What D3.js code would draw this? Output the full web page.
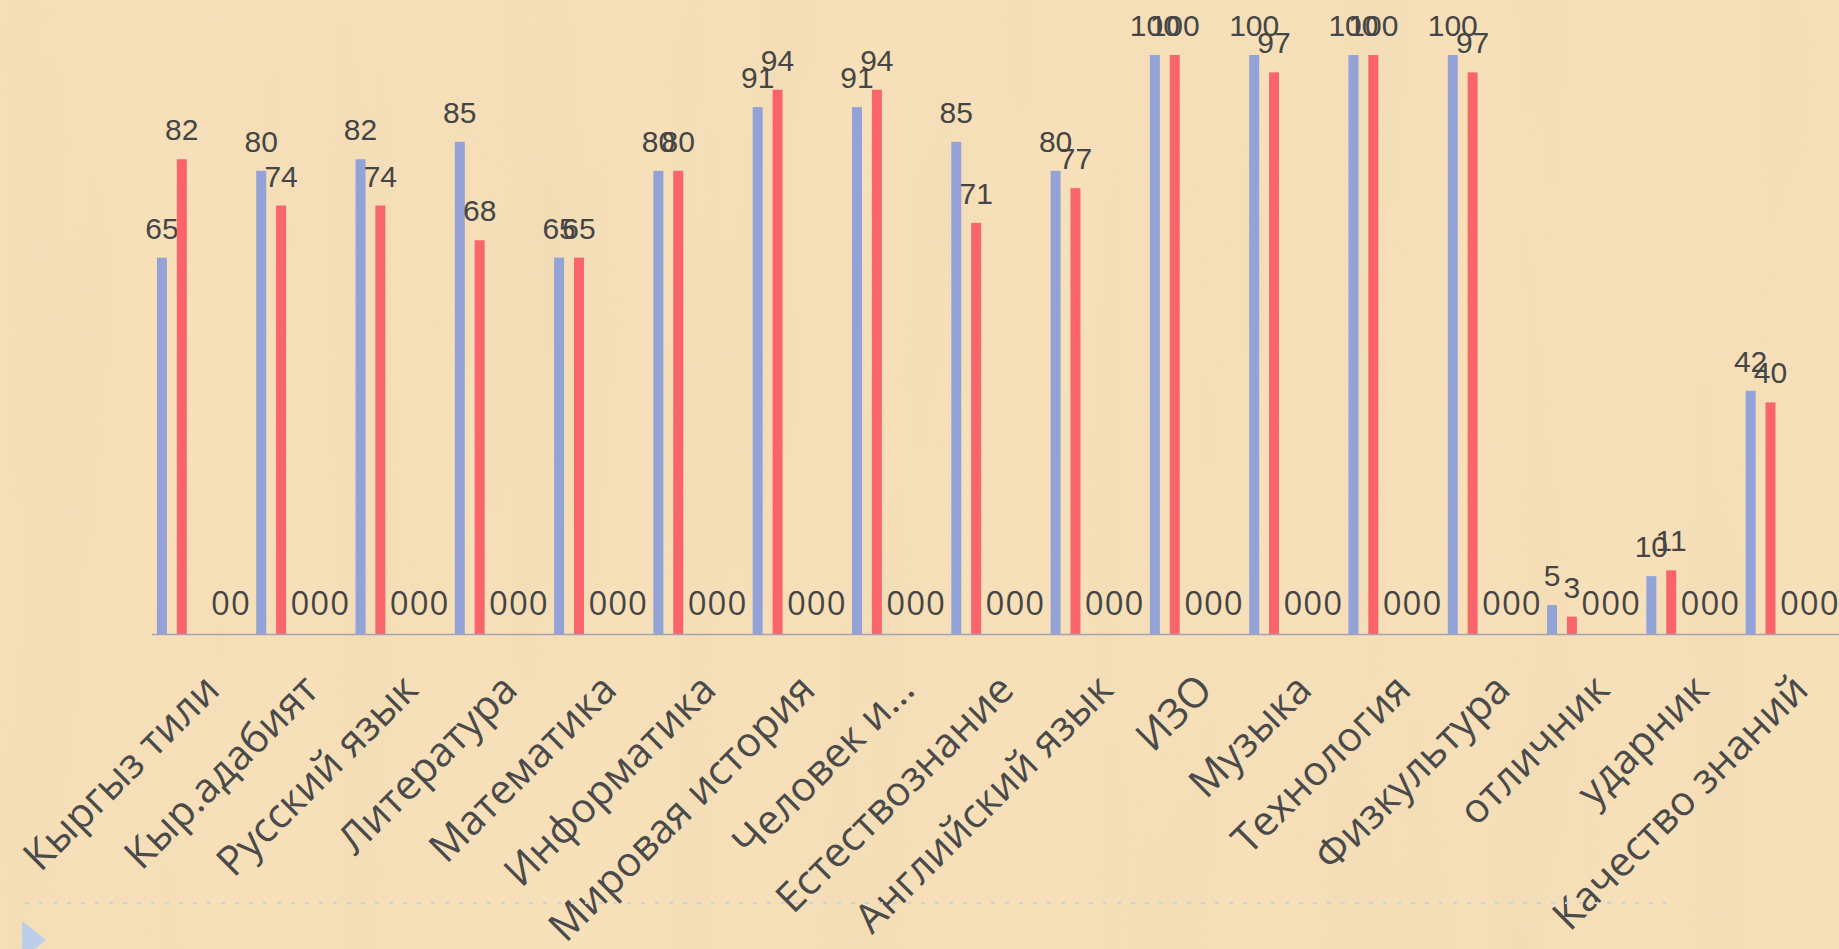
<!DOCTYPE html>
<html>
<head>
<meta charset="utf-8">
<script src="https://cdn.jsdelivr.net/npm/d3@7"></script>
<style>
  html, body { margin: 0; padding: 0; overflow: hidden; background: #f5dcb2; }
  svg { display: block; }
</style>
</head>
<body>
<script>
// categories along the x axis
const subjects = [
  'Кыргыз тили', 'Кыр.адабият', 'Русский язык', 'Литература', 'Математика',
  'Информатика', 'Мировая история', 'Человек и...', 'Естествознание',
  'Английский язык', 'ИЗО', 'Музыка', 'Технология', 'Физкультура',
  'отличник', 'ударник', 'Качество знаний'
];

// the two visible series, plus three series that are all zero
const blueValues = [65, 80, 82, 85, 65, 80, 91, 91, 85, 80, 100, 100, 100, 100, 5, 10, 42];
const redValues = [82, 74, 74, 68, 65, 80, 94, 94, 71, 77, 100, 97, 100, 97, 3, 11, 40];
const zeroValuesA = [null, 0, 0, 0, 0, 0, 0, 0, 0, 0, 0, 0, 0, 0, 0, 0, 0];
const zeroValuesB = [0, 0, 0, 0, 0, 0, 0, 0, 0, 0, 0, 0, 0, 0, 0, 0, 0];
const zeroValuesC = [0, 0, 0, 0, 0, 0, 0, 0, 0, 0, 0, 0, 0, 0, 0, 0, 0];

const seriesList = [
  { key: 's1', values: blueValues, color: '#93a3d8' },
  { key: 's2', values: redValues, color: '#f9656b' },
  { key: 's3', values: zeroValuesA, color: '#9bbb59' },
  { key: 's4', values: zeroValuesB, color: '#8064a2' },
  { key: 's5', values: zeroValuesC, color: '#4bacc6' },
];

const width = 1839;
const height = 949;

const svg = d3.select('body').append('svg')
  .attr('width', width)
  .attr('height', height);

// parchment background with a little texture
const defs = svg.append('defs');
const paper = defs.append('filter').attr('id', 'paper')
  .attr('x', 0).attr('y', 0).attr('width', '100%').attr('height', '100%');
paper.append('feTurbulence')
  .attr('type', 'fractalNoise')
  .attr('baseFrequency', '0.012 0.0015')
  .attr('numOctaves', 3)
  .attr('seed', 4)
  .attr('result', 'streaks');
paper.append('feColorMatrix')
  .attr('in', 'streaks')
  .attr('type', 'matrix')
  .attr('values', '0 0 0 0 0.86  0 0 0 0 0.70  0 0 0 0 0.45  0 0 0 -1.1 0.7')
  .attr('result', 'tint');
paper.append('feTurbulence')
  .attr('type', 'fractalNoise')
  .attr('baseFrequency', '0.9')
  .attr('numOctaves', 1)
  .attr('seed', 9)
  .attr('result', 'grain');
paper.append('feColorMatrix')
  .attr('in', 'grain')
  .attr('type', 'matrix')
  .attr('values', '0 0 0 0 0.8  0 0 0 0 0.66  0 0 0 0 0.45  0 0 0 -0.5 0.3')
  .attr('result', 'grainTint');
const merge = paper.append('feMerge');
merge.append('feMergeNode').attr('in', 'SourceGraphic');
merge.append('feMergeNode').attr('in', 'tint');
merge.append('feMergeNode').attr('in', 'grainTint');

svg.append('rect')
  .attr('width', width)
  .attr('height', height)
  .attr('fill', '#f8e1b9')
  .attr('filter', 'url(#paper)');

// scales
const x = d3.scaleBand()
  .domain(subjects)
  .range([152, 1840])
  .paddingInner(0)
  .paddingOuter(0);

const xInner = d3.scaleBand()
  .domain(seriesList.map(s => s.key))
  .range([0, x.bandwidth()]);

const y = d3.scaleLinear()
  .domain([0, 100])
  .range([634, 55]);

const barWidth = 10;

// bars and value labels
seriesList.forEach((series) => {
  const g = svg.append('g');
  const items = subjects.map((name, i) => ({ name, value: series.values[i] }))
    .filter(d => d.value !== null);

  g.selectAll('rect')
    .data(items.filter(d => d.value > 0))
    .join('rect')
    .attr('x', d => x(d.name) + xInner(series.key) + xInner.bandwidth() / 2 - barWidth / 2)
    .attr('y', d => y(d.value))
    .attr('width', barWidth)
    .attr('height', d => y(0) - y(d.value))
    .attr('fill', series.color);

  const isZero = series.key !== 's1' && series.key !== 's2';
  g.selectAll('text')
    .data(items)
    .join('text')
    .attr('x', d => x(d.name) + xInner(series.key) + xInner.bandwidth() / 2 - (isZero ? 1 : 0))
    .attr('y', d => y(d.value) - 19)
    .attr('text-anchor', 'middle')
    .attr('font-family', isZero ? '"Open Sans", sans-serif' : '"Liberation Sans", Arial, sans-serif')
    .attr('font-size', isZero ? 33 : 30)
    .attr('fill', '#454545')
    .text(d => d.value);
});

// category axis line
svg.append('line')
  .attr('x1', x.range()[0])
  .attr('x2', x.range()[1])
  .attr('y1', y(0) + 0.5)
  .attr('y2', y(0) + 0.5)
  .attr('stroke', '#a3a3b6')
  .attr('stroke-width', 1.5);

// rotated category labels
svg.append('g').selectAll('text')
  .data(subjects)
  .join('text')
  .attr('transform', d => `translate(${x(d) + x.bandwidth() / 2 + 20},${y(0) + 58}) rotate(-45)`)
  .attr('text-anchor', 'end')
  .attr('font-family', '"Open Sans", sans-serif')
  .attr('font-size', 41)
  .attr('fill', '#4a4a4a')
  .text(d => d);

// dotted line and arrow at the bottom of the slide
svg.append('line')
  .attr('x1', 25)
  .attr('x2', 1676)
  .attr('y1', 903)
  .attr('y2', 903)
  .attr('stroke', '#c9d1e4')
  .attr('stroke-width', 2)
  .attr('stroke-dasharray', '4 10');

svg.append('path')
  .attr('d', 'M22,921 L46,940 L22,959 Z')
  .attr('fill', '#bccde9');
</script>
</body>
</html>
